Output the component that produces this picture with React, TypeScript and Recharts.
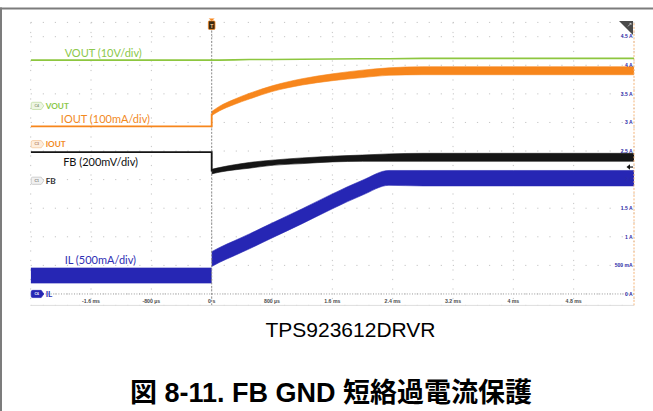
import {
  ComposedChart,
  Line,
  Area,
  XAxis,
  YAxis,
  CartesianGrid,
  ReferenceLine,
  ReferenceDot,
} from 'recharts';

// time base (ms), two rows at 0 so the traces can step at the trigger
const timeMs = [-2.4, 0, 0, 0.1, 0.3, 0.5, 0.8, 1.2, 1.6, 2.0, 2.35, 2.8, 3.2, 4.0, 4.8, 5.6];

// screen position of each trace, in the units of the right-hand axis (A)
const vout = [4.09, 4.09, 4.09, 4.09, 4.095, 4.1, 4.1, 4.105, 4.11, 4.115, 4.115, 4.12, 4.12, 4.12, 4.12, 4.12];
const ioutPre = [2.93, 2.93, 3.155, null, null, null, null, null, null, null, null, null, null, null, null, null];
const ioutMin = [null, null, 3.12, 3.2, 3.315, 3.41, 3.54, 3.655, 3.73, 3.785, 3.825, 3.835, 3.835, 3.835, 3.835, 3.835];
const ioutMax = [null, null, 3.19, 3.28, 3.405, 3.51, 3.64, 3.765, 3.85, 3.915, 3.955, 3.975, 3.975, 3.975, 3.975, 3.975];
const fbPre = [2.48, 2.48, 2.14, null, null, null, null, null, null, null, null, null, null, null, null, null];
const fbMin = [null, null, 2.1, 2.13, 2.17, 2.2, 2.25, 2.28, 2.31, 2.32, 2.32, 2.32, 2.32, 2.32, 2.32, 2.32];
const fbMax = [null, null, 2.18, 2.21, 2.26, 2.3, 2.34, 2.38, 2.41, 2.43, 2.45, 2.46, 2.46, 2.46, 2.46, 2.46];
const ilMin = [0.19, 0.19, 0.48, 0.55, 0.67, 0.79, 0.98, 1.23, 1.49, 1.73, 1.9, 1.89, 1.89, 1.89, 1.89, 1.89];
const ilMax = [0.455, 0.455, 0.74, 0.81, 0.93, 1.05, 1.24, 1.49, 1.75, 1.99, 2.16, 2.16, 2.16, 2.16, 2.16, 2.16];

const xTicks = [-1.6, -0.8, 0, 0.8, 1.6, 2.4, 3.2, 4, 4.8];
const xTickLabels = ['-1.6 ms', '-800 µs', '0 s', '800 µs', '1.6 ms', '2.4 ms', '3.2 ms', '4 ms', '4.8 ms'];
const yTicks = [0, 0.5, 1, 1.5, 2, 2.5, 3, 3.5, 4, 4.5];
const yTickLabels = ['0 A', '500 mA', '1 A', '1.5 A', '2 A', '2.5 A', '3 A', '3.5 A', '4 A', '4.5 A'];

const traceNames = ['VOUT (10V/div)', 'IOUT (100mA/div)', 'FB (200mV/div)', 'IL (500mA/div)'];
const channelIds = ['C4', 'C3', 'C1', 'C6'];
const channelNames = ['VOUT', 'IOUT', 'FB', 'IL'];
const channelLevels = [3.29, 2.62, 1.98, 0];
const triggerLevel = 2.22;

const partName = 'TPS923612DRVR';
const figureTitle = '図 8-11. FB GND 短絡過電流保護';

// rows before the trigger (index < 2) belong to the "pre" pieces
const data = timeMs.map((t, i) => ({
  t,
  vout: vout[i],
  ioutPre: ioutPre[i],
  iout: ioutMin[i] == null ? null : [ioutMin[i], ioutMax[i]],
  fbPre: fbPre[i],
  fb: fbMin[i] == null ? null : [fbMin[i], fbMax[i]],
  ilPre: i < 2 ? [ilMin[i], ilMax[i]] : null,
  il: i >= 2 ? [ilMin[i], ilMax[i]] : null,
}));

const GREEN = '#8dc63f';
const ORANGE = '#f7861c';
const BLACK = '#151515';
const BLUE = '#2626b4';
const LABEL_FONT = 'Lato, "Open Sans", sans-serif';
const SANS = '"Liberation Sans", Arial, sans-serif';

// name labels placed next to each trace (time in ms, level in axis units)
const traceLabelAnchor = [
  { t: -1.95, v: 4.23, color: '#8cc84b' },
  { t: -2.0, v: 3.07, color: '#f28a1f' },
  { t: -1.97, v: 2.32, color: '#111111' },
  { t: -1.95, v: 0.6, color: '#3030b4' },
];

const tagStyle = [
  { fill: '#eef6e4', stroke: '#b9da9a', idColor: '#8a9a7a', text: '#8cc84b' },
  { fill: '#fdeede', stroke: '#f3c290', idColor: '#b08060', text: '#f28a1f' },
  { fill: '#f1f1f1', stroke: '#bdbdbd', idColor: '#777777', text: '#333333' },
  { fill: BLUE, stroke: BLUE, idColor: '#ffffff', text: '#3030b4' },
];

const XTick = (props: any) => {
  const { x, y, payload } = props;
  const i = xTicks.indexOf(payload.value);
  return (
    <text x={x} y={y - 2.6} textAnchor="middle" fontSize={5.2} fontWeight="bold" fill="#4a4a4a" fontFamily={SANS}>
      {xTickLabels[i]}
    </text>
  );
};

const YTick = (props: any) => {
  const { x, y, payload } = props;
  const i = yTicks.indexOf(payload.value);
  return (
    <text x={x - 1.5} y={y + 1.8} textAnchor="end" fontSize={5} fontWeight="bold" fill="#2b2ba8" fontFamily={SANS}>
      {yTickLabels[i]}
    </text>
  );
};

const channelTag = (i: number) => (p: any) => {
  const { cx, cy } = p;
  const s = tagStyle[i];
  const l = cx + 0.5;
  return (
    <g>
      <path
        d={`M${l + 1.5},${cy - 3.6} L${l + 10},${cy - 3.6} L${l + 12.6},${cy} L${l + 10},${cy + 3.6} L${l + 1.5},${cy + 3.6} Q${l},${cy + 3.6} ${l},${cy + 2} L${l},${cy - 2} Q${l},${cy - 3.6} ${l + 1.5},${cy - 3.6} Z`}
        fill={s.fill}
        stroke={s.stroke}
        strokeWidth={0.7}
      />
      <text x={l + 5.5} y={cy + 1.3} textAnchor="middle" fontSize={3.6} fontWeight="bold" fill={s.idColor} fontFamily={SANS}>
        {channelIds[i]}
      </text>
      <text x={l + 14.5} y={cy + 2.8} fontSize={8.2} fontWeight="bold" fill={s.text} fontFamily={LABEL_FONT}>
        {channelNames[i]}
      </text>
    </g>
  );
};

const traceLabel = (i: number) => (p: any) => (
  <text x={p.cx} y={p.cy} dominantBaseline="central" fontSize={11} fill={traceLabelAnchor[i].color} fontFamily={LABEL_FONT}>
    {traceNames[i]}
  </text>
);

const TriggerIcon = (p: any) => {
  const { cx, cy } = p;
  return (
    <g>
      <path d={`M${cx - 3},${cy - 4} L${cx + 3},${cy - 4} L${cx},${cy - 1.5} Z`} fill={ORANGE} />
      <rect x={cx - 3.3} y={cy - 1.5} width={6.6} height={8.5} rx={1} fill="#3b2a12" stroke={ORANGE} strokeWidth={0.8} />
      <text x={cx} y={cy + 5.3} textAnchor="middle" fontSize={5} fontWeight="bold" fill="#f7c48a" fontFamily={SANS}>
        T
      </text>
    </g>
  );
};

const CornerFlag = (p: any) => {
  const { cx, cy } = p;
  return (
    <g>
      <path d={`M${cx - 15},${cy - 1.5} L${cx - 1},${cy - 1.5} L${cx - 1},${cy + 12.5} Z`} fill="#4a4a4a" />
      <path d={`M${cx - 6},${cy + 4} L${cx - 3},${cy + 1} M${cx - 4.5},${cy + 1} L${cx - 3},${cy + 1} L${cx - 3},${cy + 2.5}`} stroke="#ffffff" strokeWidth={0.6} fill="none" />
    </g>
  );
};

const LevelArrow = (p: any) => {
  const { cx, cy } = p;
  return (
    <g>
      <line x1={cx - 6} y1={cy} x2={cx - 1} y2={cy} stroke="#111" strokeWidth={1.2} />
      <path d={`M${cx - 7.5},${cy} L${cx - 4},${cy - 2.8} L${cx - 4},${cy + 2.8} Z`} fill="#111" />
    </g>
  );
};

export default function App() {
  return (
    <div style={{ position: 'absolute', left: 0, top: 0, width: 653, height: 411, background: '#fff', overflow: 'hidden' }}>
      <div style={{ position: 'absolute', left: 0, top: 0 }}>
        <ComposedChart
          width={653}
          height={411}
          data={data}
          margin={{ top: 22.4, right: 18, bottom: 104.6, left: 30.7 }}
        >
          <CartesianGrid horizontal={false} stroke="#c4c4c4" strokeDasharray="1.2 8.3" />
          <CartesianGrid vertical={false} stroke="#c4c4c4" strokeDasharray="1.2 10.86" />
          <XAxis
            dataKey="t"
            type="number"
            domain={[-2.4, 5.6]}
            ticks={xTicks}
            interval={0}
            height={1}
            tickSize={0}
            tickMargin={0}
            tickLine={false}
            axisLine={{ stroke: '#dedede', strokeWidth: 1 }}
            tick={<XTick />}
            allowDataOverflow
          />
          <YAxis
            orientation="right"
            type="number"
            domain={[-0.2, 4.75]}
            ticks={yTicks}
            interval={0}
            width={1}
            tickSize={0}
            tickMargin={0}
            tickLine={false}
            axisLine={false}
            tick={<YTick />}
            allowDataOverflow
          />
          <ReferenceLine y={0} stroke="#9a9a9a" strokeDasharray="1 1.6" segment={[{ x: -2.2, y: 0 }, { x: 5.6, y: 0 }]} />
          <ReferenceLine x={0} stroke="#8a8a8a" strokeDasharray="2 1.5" segment={[{ x: 0, y: 4.6 }, { x: 0, y: -0.2 }]} />
          <ReferenceLine x={5.6} stroke="#f5b57a" strokeDasharray="2 1.5" />

          <Area dataKey="ilPre" type="linear" fill={BLUE} fillOpacity={1} stroke={BLUE} strokeWidth={0.6} isAnimationActive={false} />
          <Area dataKey="il" type="monotone" fill={BLUE} fillOpacity={1} stroke={BLUE} strokeWidth={0.6} isAnimationActive={false} />
          <Area dataKey="fb" type="monotone" fill={BLACK} fillOpacity={1} stroke={BLACK} strokeWidth={0.6} isAnimationActive={false} />
          <Area dataKey="iout" type="monotone" fill={ORANGE} fillOpacity={1} stroke={ORANGE} strokeWidth={0.6} isAnimationActive={false} />
          <Line dataKey="fbPre" type="linear" stroke={BLACK} strokeWidth={1.8} dot={false} isAnimationActive={false} />
          <Line dataKey="ioutPre" type="linear" stroke={ORANGE} strokeWidth={1.8} dot={false} isAnimationActive={false} />
          <Line dataKey="vout" type="linear" stroke={GREEN} strokeWidth={1.6} dot={false} isAnimationActive={false} />

          {traceLabelAnchor.map((a, i) => (
            <ReferenceDot key={`lbl${i}`} x={a.t} y={a.v} r={0} ifOverflow="visible" shape={traceLabel(i)} />
          ))}
          {channelLevels.map((v, i) => (
            <ReferenceDot key={`tag${i}`} x={-2.4} y={v} r={0} ifOverflow="visible" shape={channelTag(i)} />
          ))}
          <ReferenceDot x={0} y={4.75} r={0} ifOverflow="visible" shape={TriggerIcon} />
          <ReferenceDot x={5.6} y={4.75} r={0} ifOverflow="visible" shape={CornerFlag} />
          <ReferenceDot x={5.6} y={triggerLevel} r={0} ifOverflow="visible" shape={LevelArrow} />
        </ComposedChart>
      </div>
      <svg width={653} height={411} style={{ position: 'absolute', left: 0, top: 0, pointerEvents: 'none' }}>
        <rect x={0} y={7.5} width={653} height={2} fill="#7c7c7c" />
        <rect x={0} y={7.5} width={2} height={404} fill="#7c7c7c" />
        <text x={350.5} y={336.7} textAnchor="middle" fontSize={21} fill="#000" fontFamily={SANS}>
          {partName}
        </text>
        <text
          x={331}
          y={401.5}
          textAnchor="middle"
          fontSize={27}
          fontWeight="bold"
          fill="#000"
          fontFamily={'"Liberation Sans", Arial, "Noto Sans CJK JP", sans-serif'}
        >
          {figureTitle}
        </text>
      </svg>
    </div>
  );
}
